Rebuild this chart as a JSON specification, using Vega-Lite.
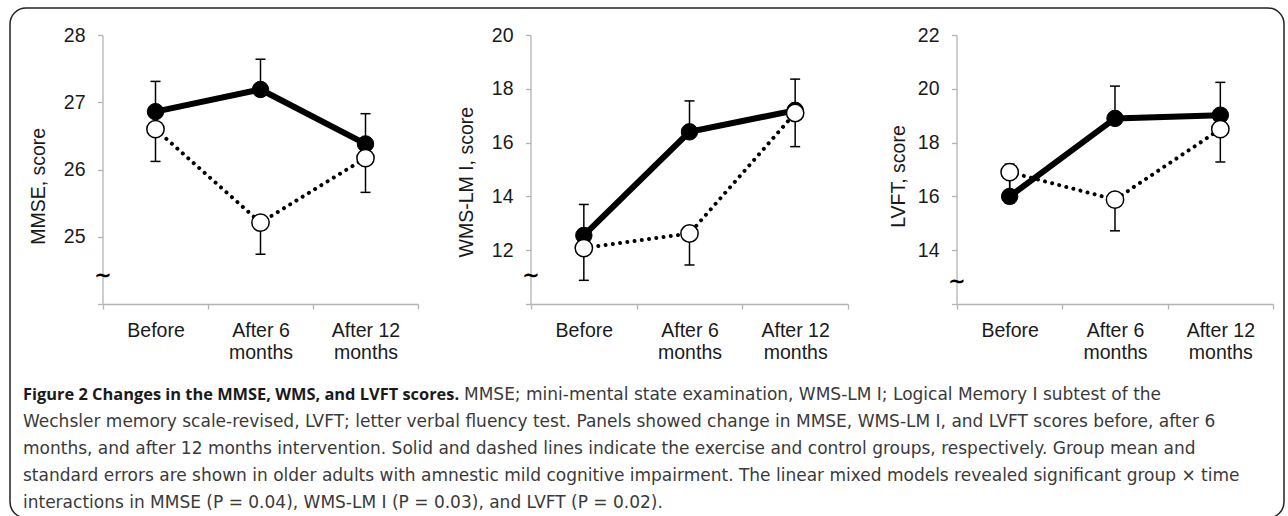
{
  "$schema": "https://vega.github.io/schema/vega-lite/v6.json",
  "width": 1274,
  "height": 510,
  "autosize": "none",
  "padding": {"left": 10, "top": 8, "right": 4, "bottom": 0},
  "background": "white",
  "config": {
    "view": {"stroke": "#222222", "strokeWidth": 1.5, "cornerRadius": 16},
    "axis": {
      "grid": false,
      "domainColor": "#b3b3b3",
      "domainWidth": 1.3,
      "tickColor": "#b3b3b3",
      "tickWidth": 1.3,
      "tickSize": 5,
      "labelFont": "Liberation Sans",
      "labelFontSize": 19.5,
      "labelColor": "#1a1a1a",
      "labelOverlap": false,
      "titleFont": "Liberation Sans",
      "titleFontSize": 19.5,
      "titleFontWeight": "normal",
      "titleColor": "#1a1a1a"
    }
  },
  "datasets": {
    "scores": [
      {"panel": "MMSE", "group": "Exercise", "step": "Before", "month": 0, "mean": 26.86, "bar": 27.31},
      {"panel": "MMSE", "group": "Exercise", "step": "After 6 months", "month": 6, "mean": 27.19, "bar": 27.64},
      {"panel": "MMSE", "group": "Exercise", "step": "After 12 months", "month": 12, "mean": 26.38, "bar": 26.83},
      {"panel": "MMSE", "group": "Control", "step": "Before", "month": 0, "mean": 26.6, "bar": 26.12},
      {"panel": "MMSE", "group": "Control", "step": "After 6 months", "month": 6, "mean": 25.21, "bar": 24.74},
      {"panel": "MMSE", "group": "Control", "step": "After 12 months", "month": 12, "mean": 26.17, "bar": 25.66},
      {"panel": "WMS", "group": "Exercise", "step": "Before", "month": 0, "mean": 12.55, "bar": 13.7},
      {"panel": "WMS", "group": "Exercise", "step": "After 6 months", "month": 6, "mean": 16.4, "bar": 17.55},
      {"panel": "WMS", "group": "Exercise", "step": "After 12 months", "month": 12, "mean": 17.2, "bar": 18.36},
      {"panel": "WMS", "group": "Control", "step": "Before", "month": 0, "mean": 12.08, "bar": 10.88},
      {"panel": "WMS", "group": "Control", "step": "After 6 months", "month": 6, "mean": 12.62, "bar": 11.45},
      {"panel": "WMS", "group": "Control", "step": "After 12 months", "month": 12, "mean": 17.1, "bar": 15.85},
      {"panel": "LVFT", "group": "Exercise", "step": "Before", "month": 0, "mean": 16.0, "bar": 17.2},
      {"panel": "LVFT", "group": "Exercise", "step": "After 6 months", "month": 6, "mean": 18.9, "bar": 20.1},
      {"panel": "LVFT", "group": "Exercise", "step": "After 12 months", "month": 12, "mean": 19.02, "bar": 20.24},
      {"panel": "LVFT", "group": "Control", "step": "Before", "month": 0, "mean": 16.9, "bar": 15.75},
      {"panel": "LVFT", "group": "Control", "step": "After 6 months", "month": 6, "mean": 15.88, "bar": 14.72},
      {"panel": "LVFT", "group": "Control", "step": "After 12 months", "month": 12, "mean": 18.5, "bar": 17.28}
    ],
    "breaks": [
      {"panel": "MMSE", "step": "Before", "value": 24.42, "sym": "∼"},
      {"panel": "WMS", "step": "Before", "value": 11.05, "sym": "∼"},
      {"panel": "LVFT", "step": "Before", "value": 12.8, "sym": "∼"}
    ],
    "caption": [
      {"line": 1, "part": "heading", "text": "Figure 2 Changes in the MMSE, WMS, and LVFT scores."},
      {"line": 1, "part": "lead", "text": "MMSE; mini-mental state examination, WMS-LM I; Logical Memory I subtest of the"},
      {"line": 2, "part": "body", "text": "Wechsler memory scale-revised, LVFT; letter verbal fluency test. Panels showed change in MMSE, WMS-LM I, and LVFT scores before, after 6"},
      {"line": 3, "part": "body", "text": "months, and after 12 months intervention. Solid and dashed lines indicate the exercise and control groups, respectively. Group mean and"},
      {"line": 4, "part": "body", "text": "standard errors are shown in older adults with amnestic mild cognitive impairment. The linear mixed models revealed significant group × time"},
      {"line": 5, "part": "body", "text": "interactions in MMSE (P = 0.04), WMS-LM I (P = 0.03), and LVFT (P = 0.02)."}
    ]
  },
  "resolve": {
    "scale": {"x": "independent", "y": "independent"},
    "axis": {"x": "independent", "y": "independent"}
  },
  "layer": [
    {
      "data": {"name": "scores"},
      "transform": [{"filter": "datum.panel == 'MMSE'"}],
      "encoding": {
        "x": {
          "field": "step", "type": "nominal",
          "scale": {"type": "band", "domain": ["Before", "After 6 months", "After 12 months"], "range": [93, 408], "paddingInner": 0, "paddingOuter": 0},
          "axis": {"orient": "bottom", "offset": -214, "tickBand": "extent", "title": null, "labelAngle": 0, "labelAlign": "center", "labelPadding": 12.5, "labelBaseline": "top", "labelLineHeight": 21.5, "labelExpr": "datum.value == 'After 6 months' ? ['After 6', 'months'] : datum.value == 'After 12 months' ? ['After 12', 'months'] : datum.value == 'Before' ? 'Before' : ''"}
        },
        "y": {
          "field": "mean", "type": "quantitative",
          "scale": {"domain": [24, 28], "range": [296, 27], "nice": false, "zero": false},
          "axis": {"orient": "left", "offset": -92.5, "values": [24, 25, 26, 27, 28], "labelExpr": "datum.value == 24 ? '' : datum.label", "labelPadding": 12.5, "title": "MMSE, score", "titleX": -58, "titleY": 177.8, "titleAngle": 270, "titleAlign": "center", "titleBaseline": "alphabetic"}
        }
      },
      "layer": [
        {"transform": [{"filter": "datum.group == 'Exercise'"}], "mark": {"type": "line", "color": "black", "strokeWidth": 6}, "encoding": {"order": {"field": "month", "type": "quantitative"}}},
        {"transform": [{"filter": "datum.group == 'Control'"}], "mark": {"type": "line", "color": "black", "strokeWidth": 4, "strokeDash": [0.01, 7.3], "strokeCap": "round"}, "encoding": {"order": {"field": "month", "type": "quantitative"}}},
        {"mark": {"type": "rule", "color": "black", "strokeWidth": 1.5, "opacity": 1}, "encoding": {"y2": {"field": "bar"}}},
        {"mark": {"type": "tick", "color": "black", "size": 10, "thickness": 1.5, "opacity": 1}, "encoding": {"y": {"field": "bar", "type": "quantitative"}}},
        {"transform": [{"filter": "datum.group == 'Exercise'"}], "mark": {"type": "point", "shape": "circle", "filled": true, "fill": "black", "stroke": "black", "strokeWidth": 1, "size": 270, "opacity": 1}},
        {"transform": [{"filter": "datum.group == 'Control'"}], "mark": {"type": "point", "shape": "circle", "filled": true, "fill": "white", "stroke": "black", "strokeWidth": 1.5, "size": 300, "opacity": 1}},
        {"data": {"name": "breaks"}, "transform": [{"filter": "datum.panel == 'MMSE'"}], "mark": {"type": "text", "font": "DejaVu Sans", "fontSize": 21, "fontWeight": "bold", "color": "black", "baseline": "middle", "align": "center"}, "encoding": {"x": {"field": "step", "type": "nominal", "bandPosition": 0}, "y": {"field": "value", "type": "quantitative"}, "text": {"field": "sym"}}}
      ]
    },
    {
      "data": {"name": "scores"},
      "transform": [{"filter": "datum.panel == 'WMS'"}],
      "encoding": {
        "x": {
          "field": "step", "type": "nominal",
          "scale": {"type": "band", "domain": ["Before", "After 6 months", "After 12 months"], "range": [521, 838], "paddingInner": 0, "paddingOuter": 0},
          "axis": {"orient": "bottom", "offset": -214, "tickBand": "extent", "title": null, "labelAngle": 0, "labelAlign": "center", "labelPadding": 12.5, "labelBaseline": "top", "labelLineHeight": 21.5, "labelExpr": "datum.value == 'After 6 months' ? ['After 6', 'months'] : datum.value == 'After 12 months' ? ['After 12', 'months'] : datum.value == 'Before' ? 'Before' : ''"}
        },
        "y": {
          "field": "mean", "type": "quantitative",
          "scale": {"domain": [10, 20], "range": [296, 27], "nice": false, "zero": false},
          "axis": {"orient": "left", "offset": -520.5, "values": [10, 12, 14, 16, 18, 20], "labelExpr": "datum.value == 10 ? '' : datum.label", "labelPadding": 12.5, "title": "WMS-LM I, score", "titleX": -58.5, "titleY": 173.7, "titleAngle": 270, "titleAlign": "center", "titleBaseline": "alphabetic"}
        }
      },
      "layer": [
        {"transform": [{"filter": "datum.group == 'Exercise'"}], "mark": {"type": "line", "color": "black", "strokeWidth": 6}, "encoding": {"order": {"field": "month", "type": "quantitative"}}},
        {"transform": [{"filter": "datum.group == 'Control'"}], "mark": {"type": "line", "color": "black", "strokeWidth": 4, "strokeDash": [0.01, 7.3], "strokeCap": "round"}, "encoding": {"order": {"field": "month", "type": "quantitative"}}},
        {"mark": {"type": "rule", "color": "black", "strokeWidth": 1.5, "opacity": 1}, "encoding": {"y2": {"field": "bar"}}},
        {"mark": {"type": "tick", "color": "black", "size": 10, "thickness": 1.5, "opacity": 1}, "encoding": {"y": {"field": "bar", "type": "quantitative"}}},
        {"transform": [{"filter": "datum.group == 'Exercise'"}], "mark": {"type": "point", "shape": "circle", "filled": true, "fill": "black", "stroke": "black", "strokeWidth": 1, "size": 270, "opacity": 1}},
        {"transform": [{"filter": "datum.group == 'Control'"}], "mark": {"type": "point", "shape": "circle", "filled": true, "fill": "white", "stroke": "black", "strokeWidth": 1.5, "size": 300, "opacity": 1}},
        {"data": {"name": "breaks"}, "transform": [{"filter": "datum.panel == 'WMS'"}], "mark": {"type": "text", "font": "DejaVu Sans", "fontSize": 21, "fontWeight": "bold", "color": "black", "baseline": "middle", "align": "center"}, "encoding": {"x": {"field": "step", "type": "nominal", "bandPosition": 0}, "y": {"field": "value", "type": "quantitative"}, "text": {"field": "sym"}}}
      ]
    },
    {
      "data": {"name": "scores"},
      "transform": [{"filter": "datum.panel == 'LVFT'"}],
      "encoding": {
        "x": {
          "field": "step", "type": "nominal",
          "scale": {"type": "band", "domain": ["Before", "After 6 months", "After 12 months"], "range": [947, 1263], "paddingInner": 0, "paddingOuter": 0},
          "axis": {"orient": "bottom", "offset": -214, "tickBand": "extent", "title": null, "labelAngle": 0, "labelAlign": "center", "labelPadding": 12.5, "labelBaseline": "top", "labelLineHeight": 21.5, "labelExpr": "datum.value == 'After 6 months' ? ['After 6', 'months'] : datum.value == 'After 12 months' ? ['After 12', 'months'] : datum.value == 'Before' ? 'Before' : ''"}
        },
        "y": {
          "field": "mean", "type": "quantitative",
          "scale": {"domain": [12, 22], "range": [296, 27], "nice": false, "zero": false},
          "axis": {"orient": "left", "offset": -946.5, "values": [12, 14, 16, 18, 20, 22], "labelExpr": "datum.value == 12 ? '' : datum.label", "labelPadding": 12.5, "title": "LVFT, score", "titleX": -52, "titleY": 168, "titleAngle": 270, "titleAlign": "center", "titleBaseline": "alphabetic"}
        }
      },
      "layer": [
        {"transform": [{"filter": "datum.group == 'Exercise'"}], "mark": {"type": "line", "color": "black", "strokeWidth": 6}, "encoding": {"order": {"field": "month", "type": "quantitative"}}},
        {"transform": [{"filter": "datum.group == 'Control'"}], "mark": {"type": "line", "color": "black", "strokeWidth": 4, "strokeDash": [0.01, 7.3], "strokeCap": "round"}, "encoding": {"order": {"field": "month", "type": "quantitative"}}},
        {"mark": {"type": "rule", "color": "black", "strokeWidth": 1.5, "opacity": 1}, "encoding": {"y2": {"field": "bar"}}},
        {"mark": {"type": "tick", "color": "black", "size": 10, "thickness": 1.5, "opacity": 1}, "encoding": {"y": {"field": "bar", "type": "quantitative"}}},
        {"transform": [{"filter": "datum.group == 'Exercise'"}], "mark": {"type": "point", "shape": "circle", "filled": true, "fill": "black", "stroke": "black", "strokeWidth": 1, "size": 270, "opacity": 1}},
        {"transform": [{"filter": "datum.group == 'Control'"}], "mark": {"type": "point", "shape": "circle", "filled": true, "fill": "white", "stroke": "black", "strokeWidth": 1.5, "size": 300, "opacity": 1}},
        {"data": {"name": "breaks"}, "transform": [{"filter": "datum.panel == 'LVFT'"}], "mark": {"type": "text", "font": "DejaVu Sans", "fontSize": 21, "fontWeight": "bold", "color": "black", "baseline": "middle", "align": "center"}, "encoding": {"x": {"field": "step", "type": "nominal", "bandPosition": 0}, "y": {"field": "value", "type": "quantitative"}, "text": {"field": "sym"}}}
      ]
    },
    {
      "data": {"name": "caption"},
      "encoding": {
        "y": {"field": "line", "type": "quantitative", "scale": {"domain": [1, 5], "range": [392, 500], "nice": false, "zero": false}, "axis": null},
        "text": {"field": "text"}
      },
      "layer": [
        {"transform": [{"filter": "datum.part == 'heading'"}], "mark": {"type": "text", "align": "left", "baseline": "alphabetic", "font": "Open Sans", "fontWeight": "bold", "fontSize": 16.4, "color": "#1a1a1a", "x": 13}},
        {"transform": [{"filter": "datum.part == 'lead'"}], "mark": {"type": "text", "align": "left", "baseline": "alphabetic", "font": "DejaVu Sans", "fontSize": 17, "color": "#3a3a3a", "x": 454}},
        {"transform": [{"filter": "datum.part == 'body'"}], "mark": {"type": "text", "align": "left", "baseline": "alphabetic", "font": "DejaVu Sans", "fontSize": 17, "color": "#3a3a3a", "x": 13}}
      ]
    }
  ]
}
